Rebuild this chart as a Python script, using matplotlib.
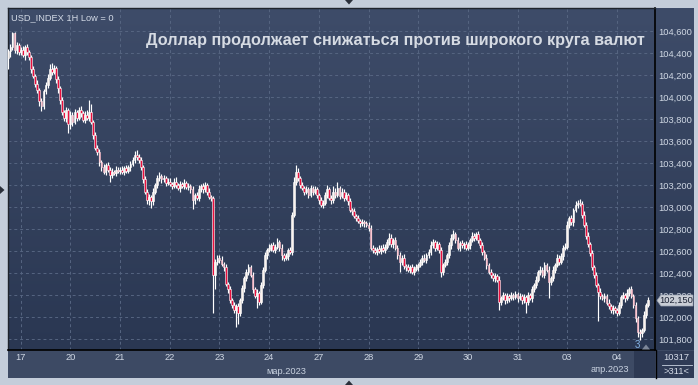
import numpy as np
import matplotlib.pyplot as plt
from matplotlib.patches import Rectangle, Polygon
from matplotlib.transforms import Bbox
from matplotlib.colors import LinearSegmentedColormap

plt.rcParams['font.family'] = ['Liberation Sans', 'DejaVu Sans']

W, H = 698, 385

# USD index, hourly candles; closes per trading day (last hours of 16 Mar first)
first_open = 104.35
pre_close = [104.42, 104.45, 104.58, 104.43, 104.47, 104.41]
mar17_close = [104.43, 104.38, 104.45, 104.41, 104.36, 104.25, 104.19, 104.12, 104.06, 103.96, 103.92, 104.05,
               104.11, 104.17, 104.25, 104.23, 104.26, 104.16, 104.08, 103.97, 103.86, 103.81, 103.88, 103.75]
mar20_close = [103.84, 103.77, 103.86, 103.81, 103.88, 103.85, 103.79, 103.84, 103.81, 103.86, 103.77, 103.65,
               103.54, 103.50, 103.41, 103.36, 103.32, 103.38, 103.34, 103.29, 103.32, 103.31, 103.34, 103.33]
mar21_close = [103.34, 103.32, 103.35, 103.33, 103.36, 103.39, 103.43, 103.47, 103.45, 103.43, 103.36, 103.25,
               103.14, 103.06, 103.09, 103.05, 103.14, 103.20, 103.26, 103.28, 103.25, 103.26, 103.22, 103.23]
mar22_close = [103.21, 103.19, 103.23, 103.20, 103.17, 103.21, 103.19, 103.22, 103.18, 103.19, 103.16, 103.06,
               103.11, 103.08, 103.16, 103.19, 103.16, 103.20, 103.14, 103.09, 103.08, 102.38, 102.50, 102.54]
mar23_close = [102.52, 102.48, 102.45, 102.30, 102.25, 102.15, 102.11, 102.06, 102.10, 102.04, 102.15, 102.26,
               102.35, 102.41, 102.45, 102.38, 102.25, 102.19, 102.22, 102.14, 102.29, 102.43, 102.56, 102.61]
mar24_close = [102.63, 102.65, 102.61, 102.64, 102.68, 102.63, 102.56, 102.54, 102.55, 102.61, 102.59, 102.93,
               103.23, 103.32, 103.26, 103.20, 103.17, 103.14, 103.16, 103.11, 103.17, 103.14, 103.16, 103.11]
mar27_close = [103.06, 103.02, 103.04, 103.11, 103.16, 103.08, 103.06, 103.14, 103.11, 103.17, 103.10, 103.14,
               103.08, 103.11, 103.05, 102.97, 102.96, 102.92, 102.90, 102.87, 102.85, 102.86, 102.85, 102.84]
mar28_close = [102.81, 102.63, 102.61, 102.59, 102.62, 102.60, 102.63, 102.61, 102.64, 102.68, 102.72, 102.66,
               102.70, 102.63, 102.56, 102.50, 102.54, 102.46, 102.45, 102.43, 102.45, 102.41, 102.44, 102.45]
mar29_close = [102.47, 102.50, 102.54, 102.52, 102.56, 102.59, 102.65, 102.68, 102.63, 102.66, 102.61, 102.41,
               102.47, 102.50, 102.56, 102.65, 102.72, 102.75, 102.70, 102.63, 102.67, 102.65, 102.66, 102.63]
mar30_close = [102.65, 102.70, 102.74, 102.72, 102.75, 102.70, 102.65, 102.59, 102.54, 102.47, 102.41, 102.38,
               102.35, 102.37, 102.34, 102.14, 102.17, 102.20, 102.15, 102.19, 102.17, 102.20, 102.18, 102.21]
mar31_close = [102.17, 102.19, 102.15, 102.18, 102.14, 102.20, 102.17, 102.25, 102.29, 102.34, 102.41, 102.43,
               102.38, 102.47, 102.43, 102.32, 102.35, 102.43, 102.47, 102.54, 102.50, 102.55, 102.63, 102.64]
apr03_close = [102.84, 102.90, 102.86, 102.97, 103.02, 103.04, 103.03, 102.93, 102.84, 102.74, 102.66, 102.58,
               102.45, 102.38, 102.29, 102.23, 102.19, 102.17, 102.19, 102.13, 102.10, 102.06, 102.08, 102.06]
apr04_close = [102.04, 102.11, 102.18, 102.20, 102.17, 102.22, 102.25, 102.19, 102.11, 101.99, 101.86, 101.85,
               101.88, 102.02, 102.11, 102.15]

# wick lengths above / below the body, in 0.01 index points
upper_wick = [2, 3, 1, 1, 3, 2,
              2, 3, 2, 3, 2, 2, 3, 2, 3, 2, 3, 2, 3, 4, 5, 6, 3, 2, 3, 2, 3, 2, 3, 2,
              3, 2, 3, 2, 3, 4, 2, 3, 4, 11, 8, 2, 3, 2, 3, 2, 3, 2, 3, 2, 3, 2, 3, 2,
              2, 3, 2, 3, 2, 3, 2, 4, 5, 3, 2, 2, 3, 2, 3, 2, 3, 2, 3, 4, 2, 3, 2, 3,
              3, 2, 3, 4, 2, 3, 2, 3, 2, 3, 2, 3, 2, 3, 4, 2, 3, 3, 2, 3, 2, 2, 3, 2,
              2, 3, 2, 3, 2, 3, 2, 3, 2, 3, 2, 3, 2, 3, 3, 2, 3, 2, 3, 2, 3, 2, 3, 2,
              3, 2, 3, 2, 4, 2, 3, 2, 3, 2, 3, 2, 4, 6, 3, 2, 3, 2, 3, 2, 3, 2, 3, 2,
              2, 3, 2, 3, 4, 2, 3, 5, 3, 6, 2, 3, 2, 3, 2, 3, 2, 3, 2, 3, 2, 3, 2, 2,
              2, 3, 2, 3, 2, 3, 2, 3, 2, 3, 4, 3, 2, 3, 2, 3, 2, 3, 2, 3, 2, 3, 2, 3,
              2, 3, 2, 3, 2, 3, 4, 3, 2, 3, 2, 3, 2, 3, 2, 3, 3, 4, 2, 3, 2, 3, 2, 3,
              3, 2, 3, 2, 2, 3, 2, 3, 2, 3, 2, 3, 2, 3, 2, 3, 2, 3, 2, 3, 2, 3, 2, 3,
              2, 3, 2, 3, 2, 3, 2, 3, 2, 3, 2, 3, 2, 3, 2, 3, 2, 3, 2, 3, 2, 3, 2, 3,
              3, 2, 3, 2, 3, 2, 3, 2, 3, 2, 3, 2, 3, 2, 3, 2, 3, 2, 3, 2, 3, 2, 3, 2,
              2, 3, 2, 3, 2, 3, 2, 3, 2, 3, 2, 3, 2, 3, 2, 3]
lower_wick = [10, 6, 2, 3, 4, 3,
              3, 2, 4, 3, 2, 3, 2, 3, 2, 4, 5, 3, 2, 3, 2, 3, 2, 3, 4, 3, 2, 3, 4, 8,
              4, 3, 2, 3, 2, 3, 2, 3, 2, 3, 2, 3, 2, 3, 4, 3, 2, 3, 2, 6, 3, 2, 3, 2,
              3, 2, 3, 2, 2, 3, 2, 3, 2, 3, 2, 3, 2, 3, 4, 6, 3, 2, 3, 2, 3, 2, 3, 2,
              2, 3, 2, 3, 2, 3, 2, 3, 2, 3, 3, 8, 3, 2, 3, 2, 3, 2, 3, 2, 3, 34, 13, 3,
              3, 2, 3, 2, 3, 2, 3, 2, 15, 10, 3, 2, 3, 2, 3, 2, 3, 2, 11, 3, 2, 3, 2, 3,
              2, 3, 2, 3, 2, 3, 4, 3, 2, 3, 2, 3, 2, 3, 2, 3, 2, 3, 2, 3, 2, 3, 2, 3,
              3, 2, 3, 2, 3, 2, 3, 2, 3, 2, 3, 2, 3, 2, 3, 2, 3, 2, 3, 2, 3, 2, 3, 2,
              3, 2, 3, 2, 3, 2, 3, 2, 3, 2, 3, 2, 3, 2, 3, 9, 3, 2, 3, 2, 3, 2, 3, 2,
              3, 2, 3, 2, 3, 2, 3, 2, 3, 2, 3, 5, 3, 2, 3, 2, 3, 2, 3, 2, 3, 2, 3, 2,
              2, 3, 2, 3, 2, 3, 2, 3, 2, 3, 2, 3, 2, 3, 2, 8, 3, 2, 3, 2, 3, 2, 3, 2,
              3, 2, 3, 2, 10, 3, 2, 3, 2, 3, 2, 3, 2, 3, 2, 15, 3, 2, 3, 2, 3, 2, 3, 2,
              2, 3, 2, 3, 2, 3, 2, 3, 2, 3, 2, 3, 2, 3, 2, 27, 3, 2, 3, 2, 3, 2, 3, 2,
              3, 2, 3, 2, 3, 2, 3, 2, 3, 4, 4, 6, 3, 2, 3, 2]

day_labels = ['17', '20', '21', '22', '23', '24', '27', '28', '29', '30', '31', '03', '04']
month_labels = ['мар.2023', 'апр.2023']
last_price = 102.150
title = 'Доллар продолжает снижаться против широкого круга валют'
info = 'USD_INDEX 1H Low = 0'


closes = np.array(pre_close + mar17_close + mar20_close + mar21_close + mar22_close + mar23_close
                  + mar24_close + mar27_close + mar28_close + mar29_close + mar30_close + mar31_close
                  + apr03_close + apr04_close)
opens = np.concatenate([[first_open], closes[:-1]])
highs = np.maximum(opens, closes) + np.array(upper_wick) * 0.01
lows = np.minimum(opens, closes) - np.array(lower_wick) * 0.01
x = np.arange(len(closes)) - len(pre_close)
day_pos = np.arange(len(day_labels)) * 24

fig = plt.figure(figsize=(W / 100, H / 100), dpi=100)
fig.patch.set_facecolor('#c4cdda')


def px_rect(x0, y0, x1, y1, **kw):
    r = Rectangle((x0 / W, 1 - y1 / H), (x1 - x0) / W, (y1 - y0) / H,
                  transform=fig.transFigure, **kw)
    fig.add_artist(r)
    return r


def px_poly(pts, **kw):
    p = Polygon([(a / W, 1 - b / H) for a, b in pts], closed=True,
                transform=fig.transFigure, **kw)
    fig.add_artist(p)


# background of chart + right scale
bg = fig.add_axes([8 / W, 1 - 350 / H, 686 / W, 342 / H], zorder=0)
grad = np.linspace(0, 1, 256).reshape(-1, 1)
cmap = LinearSegmentedColormap.from_list('bg', ['#3e4c69', '#2a3752'])
bg.imshow(grad, aspect='auto', cmap=cmap, extent=[0, 1, 0, 1])
bg.axis('off')

# bottom time band
px_rect(8, 350, 694, 378, facecolor='#3d4a64', edgecolor='none', zorder=1)
px_rect(634, 351, 655, 378, facecolor='#2d3953', edgecolor='none', zorder=1)
px_rect(656, 351, 694, 378, facecolor='#2f3b56', edgecolor='none', zorder=1)

ax = fig.add_axes([8 / W, 1 - 350 / H, 647 / W, 342 / H], zorder=2)
ax.patch.set_visible(False)

# candles
up = closes >= opens
ax.vlines(x, lows, highs, color='white', lw=0.85, zorder=3)
body = np.maximum(np.abs(closes - opens), 0.007)
ax.bar(x, body, bottom=np.minimum(opens, closes), width=0.85,
       color=np.where(up, '#fbf3ee', '#ea0f3d'), edgecolor='white', linewidth=0.4, zorder=4)

ax.set_xlim(-6.15, 306.4)
ax.set_ylim(101.700, 104.809)

yt = np.arange(101.8, 104.61, 0.2)
ax.set_yticks(yt)
ax.set_yticklabels([f'{v:.3f}'.replace('.', ',') for v in yt])
ax.yaxis.tick_right()
ax.set_xticks(day_pos)
ax.set_xticklabels(day_labels)
ax.tick_params(axis='both', length=0, labelsize=6.7, labelcolor='#d0d8e4')
ax.tick_params(axis='y', pad=2.2)
ax.tick_params(axis='x', pad=2.4)
ax.grid(True, color='#566581', lw=0.7, linestyle=(0, (3, 3)))
ax.set_axisbelow(True)
for side in ['left', 'top']:
    ax.spines[side].set_color('#1e232c')
    ax.spines[side].set_linewidth(1.0)
for side in ['right', 'bottom']:
    ax.spines[side].set_color('black')
    ax.spines[side].set_linewidth(1.2)

# separator under right scale
fig.add_artist(plt.Line2D([655.5 / W, 655.5 / W], [1 - 378 / H, 1 - 350 / H],
                          transform=fig.transFigure, color='black', lw=1.0))

# month labels
fig.text(286 / W, 1 - 371 / H, month_labels[0], ha='center', va='center', fontsize=6.7, color='#c9d2e0')
fig.text(610 / W, 1 - 370 / H, month_labels[1], ha='center', va='center', fontsize=6.7, color='#c9d2e0')

# bottom right counter
fig.text(676 / W, 1 - 358 / H, '10317', ha='center', va='center', fontsize=6.7, color='#d5dce8')
fig.add_artist(plt.Line2D([662 / W, 692 / W], [1 - 364.5 / H, 1 - 364.5 / H],
                          transform=fig.transFigure, color='#c9d2e0', lw=0.6))
fig.text(676 / W, 1 - 371 / H, '>311<', ha='center', va='center', fontsize=6.7, color='#d5dce8')

# last price tag; the tag hides the lower half of the neighbouring scale label
yp = ax.transData.transform((0, last_price))[1]
yp_px = H - yp
tag_top = yp_px - 5.5
px_poly([(657, yp_px), (661, tag_top), (693, tag_top), (693, yp_px + 5.5), (661, yp_px + 5.5)],
        facecolor='#c9cdd5', edgecolor='#9aa2b0', lw=0.5, zorder=5)
fig.text(676.5 / W, 1 - yp_px / H, f'{last_price:.3f}'.replace('.', ','), ha='center', va='center',
         fontsize=6.7, color='#1b2233', zorder=6)
fig.canvas.draw()
for lab, v in zip(ax.get_yticklabels(), yt):
    if abs(v - 102.2) < 1e-6:
        lab.set_clip_box(Bbox.from_extents(650, H - tag_top, 698, H))
        lab.set_clip_on(True)

# session marker
fig.text(637.5 / W, 1 - 345.5 / H, '3', ha='center', va='center', fontsize=7, color='#86b6e6', zorder=6)
px_poly([(642, 349.5), (646, 344.5), (650, 349.5)], facecolor='#7d8799', edgecolor='none', zorder=6)

# texts on the chart
ax.text(0.004, 0.985, info, transform=ax.transAxes, ha='left', va='top', fontsize=6.7, color='#d3dae6')
fig.text(645 / W, 1 - 41 / H, title, ha='right', va='center', fontsize=11.7, fontweight='bold',
         color='#d6dbe3', zorder=6)

# frame markers
px_poly([(345, 0), (353, 0), (349, 4.5)], facecolor='#2a2f3a', edgecolor='none')
px_poly([(345, 385), (353, 385), (349, 380.5)], facecolor='#2a2f3a', edgecolor='none')
px_poly([(0, 186), (0, 194), (4.5, 190)], facecolor='#2a2f3a', edgecolor='none')

fig.savefig('out.png', dpi=100, facecolor=fig.get_facecolor())
